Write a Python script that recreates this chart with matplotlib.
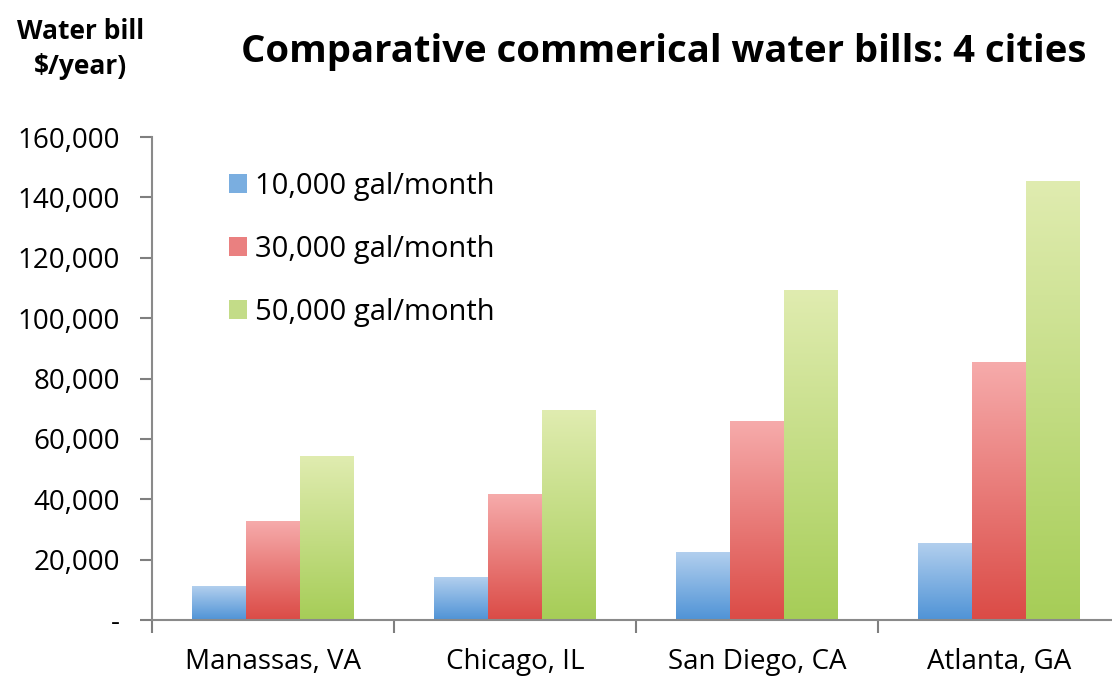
import numpy as np
import matplotlib.pyplot as plt
from matplotlib.colors import LinearSegmentedColormap
from matplotlib.patches import Patch

cities = ['Manassas, VA', 'Chicago, IL', 'San Diego, CA', 'Atlanta, GA']
series = ['10,000 gal/month', '30,000 gal/month', '50,000 gal/month']
bill_10k = [11000, 14000, 22200, 25500]
bill_30k = [32500, 41700, 65600, 85400]
bill_50k = [54300, 69500, 109300, 145400]
yticks = [0, 20000, 40000, 60000, 80000, 100000, 120000, 140000, 160000]

# (top colour, bottom colour) per series
grads = [('#b2cfee', '#4f93d6'), ('#f6abab', '#db4b46'), ('#e0ecb0', '#a6cd57')]
flat = ['#7aaee0', '#ea8080', '#c3dc88']

plt.rcParams['font.family'] = ['Open Sans', 'DejaVu Sans']

fig = plt.figure(figsize=(11.12, 6.79), dpi=100)
ax = fig.add_axes([152 / 1112, 59 / 679, 968 / 1112, 483 / 679])

x = np.arange(len(cities))
w = 0.223
grad = np.linspace(1, 0, 256).reshape(-1, 1)
for i, vals in enumerate([bill_10k, bill_30k, bill_50k]):
    cmap = LinearSegmentedColormap.from_list('g%d' % i, [grads[i][1], grads[i][0]])
    bars = ax.bar(x + (i - 1) * w, vals, w, color='none', edgecolor='none')
    for b in bars:
        x0, y0 = b.get_x(), b.get_y()
        ax.imshow(grad, cmap=cmap, vmin=0, vmax=1, aspect='auto',
                  extent=[x0, x0 + b.get_width(), y0, y0 + b.get_height()],
                  zorder=2, interpolation='bicubic')

ax.set_xlim(-0.5, 3.5)
ax.set_ylim(0, 160000)

ax.set_yticks(yticks)
ax.set_yticklabels(['-'] + ['{:,}'.format(v) for v in yticks[1:]], fontsize=20)
ax.set_xticks(np.arange(-0.5, 4, 1))
ax.set_xticklabels([])
ax.set_xticks(x, minor=True)
ax.set_xticklabels(cities, minor=True, fontsize=20)
ax.tick_params(axis='x', which='major', length=9, width=1.5, color='#7f7f7f')
ax.tick_params(axis='x', which='minor', length=0, pad=20)
ax.tick_params(axis='y', length=9, width=1.5, color='#7f7f7f', pad=14)

for s in ['top', 'right']:
    ax.spines[s].set_visible(False)
for s in ['left', 'bottom']:
    ax.spines[s].set_color('#8a8a8a')
    ax.spines[s].set_linewidth(1.5)

handles = [Patch(facecolor=c, edgecolor='none') for c in flat]
ax.legend(handles, series, loc='upper left', bbox_to_anchor=(0.052, 0.982),
          frameon=False, fontsize=21, labelspacing=1.16, handlelength=0.62,
          handleheight=0.62, handletextpad=0.27)

fig.text(0.597, 0.923, 'Comparative commerical water bills: 4 cities',
         ha='center', va='center', fontsize=27.5, fontweight='bold')
fig.text(0.072, 0.928, 'Water bill\n$/year)', ha='center', va='center',
         fontsize=19, fontweight='bold', linespacing=1.4)

plt.savefig('out.png', dpi=100)
